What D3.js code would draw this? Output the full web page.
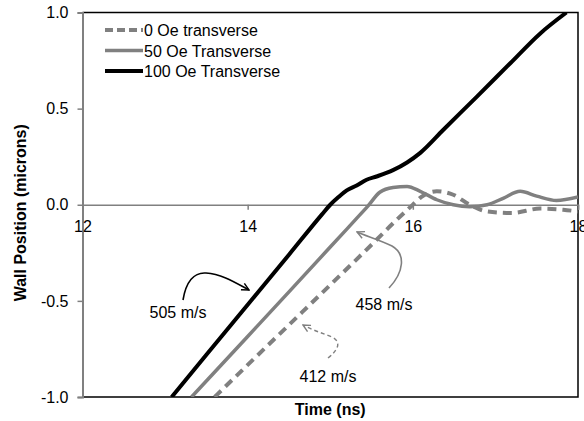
<!DOCTYPE html>
<html>
<head>
<meta charset="utf-8">
<script src="https://cdn.jsdelivr.net/npm/d3@7"></script>
<style>
  body { margin: 0; background: #fff; }
  svg { display: block; font-family: "Liberation Sans", Arial, sans-serif; }
  .tick-label { font-size: 16px; fill: #000; }
  .axis-title { font-size: 16px; font-weight: bold; fill: #000; }
  .note { font-size: 16px; fill: #000; }
</style>
</head>
<body>
<div id="chart"></div>
<script>
// data
var xTicks = [12, 14, 16, 18];
var yTicks = [1.0, 0.5, 0.0, -0.5, -1.0];
var seriesNames = ["0 Oe transverse", "50 Oe Transverse", "100 Oe Transverse"];

var t0 = [13.6, 14.0, 14.5, 15.0, 15.5, 15.8, 16.0, 16.1, 16.29, 16.49, 16.69, 16.9, 17.2, 17.54, 17.82, 18.0];
var y0 = [-1.0, -0.833, -0.625, -0.417, -0.208, -0.08, 0.0, 0.04, 0.07, 0.052, 0.0, -0.035, -0.043, -0.02, -0.026, -0.035];

var t50 = [13.32, 14.0, 14.5, 15.0, 15.3, 15.45, 15.6, 15.76, 15.93, 16.09, 16.29, 16.49, 16.69, 16.9, 17.1, 17.3, 17.5, 17.74, 18.0];
var y50 = [-1.0, -0.685, -0.453, -0.22, -0.08, -0.01, 0.065, 0.09, 0.095, 0.07, 0.026, 0.0, -0.01, 0.0, 0.035, 0.07, 0.045, 0.022, 0.04];

var t100 = [13.08, 13.5, 14.0, 14.5, 14.9, 15.0, 15.1, 15.2, 15.32, 15.44, 15.56, 15.76, 15.93, 16.09, 16.37, 16.77, 17.18, 17.54, 17.86];
var y100 = [-1.0, -0.78, -0.52, -0.26, -0.05, 0.0, 0.04, 0.075, 0.10, 0.13, 0.147, 0.18, 0.22, 0.27, 0.39, 0.56, 0.736, 0.89, 1.0];

var speedLabels = ["412 m/s", "458 m/s", "505 m/s"];

var W = 584, H = 421;
var pLeft = 82.5, pRight = 578, pTop = 12.5, pBottom = 397;

var x = d3.scaleLinear().domain([12, 18]).range([pLeft, pRight]);
var y = d3.scaleLinear().domain([-1, 1]).range([pBottom, pTop]);

var svg = d3.select("#chart").append("svg")
  .attr("width", W)
  .attr("height", H);

svg.append("clipPath").attr("id", "plot-clip")
  .append("rect")
  .attr("x", pLeft).attr("y", pTop)
  .attr("width", pRight - pLeft).attr("height", pBottom - pTop);

// arrow heads (open V)
function marker(id, color) {
  svg.append("marker")
    .attr("id", id)
    .attr("viewBox", "0 0 10 10")
    .attr("refX", 9).attr("refY", 5)
    .attr("markerWidth", 9).attr("markerHeight", 9)
    .attr("markerUnits", "userSpaceOnUse")
    .attr("orient", "auto")
    .append("path")
    .attr("d", "M1,1 L9,5 L1,9")
    .attr("fill", "none")
    .attr("stroke", color)
    .attr("stroke-width", 1.6);
}
marker("arrow-black", "#000");
marker("arrow-gray", "#808080");

// frame: black top/right/bottom
svg.append("path")
  .attr("d", "M" + pLeft + "," + pTop + "H" + pRight + "V" + pBottom + "H" + pLeft)
  .attr("fill", "none")
  .attr("stroke", "#000")
  .attr("stroke-width", 1.5);

// y axis (gray), plain hyphen for negatives like the original
var yAxis = d3.axisLeft(y).tickValues(yTicks).tickSize(5)
  .tickFormat(function(d) { return d.toFixed(1); });
var gy = svg.append("g").attr("transform", "translate(" + pLeft + ",0)").call(yAxis);
gy.select(".domain").attr("stroke", "#808080").attr("stroke-width", 2);
gy.selectAll(".tick line").attr("stroke", "#808080").attr("stroke-width", 1.5);
gy.selectAll(".tick text")
  .attr("class", "tick-label")
  .attr("x", -14)
  .style("font-size", "16px")
  .style("font-family", "'Liberation Sans', Arial, sans-serif");

// x axis sits on y = 0
var xAxis = d3.axisBottom(x).tickValues(xTicks).tickSize(5).tickFormat(d3.format("d"));
var gx = svg.append("g").attr("transform", "translate(0," + y(0) + ")").call(xAxis);
gx.select(".domain").attr("stroke", "#808080").attr("stroke-width", 1.5);
gx.selectAll(".tick line").attr("stroke", "#808080").attr("stroke-width", 1.5);
gx.selectAll(".tick text")
  .attr("class", "tick-label")
  .attr("y", 16)
  .style("font-size", "16px")
  .style("font-family", "'Liberation Sans', Arial, sans-serif");

// axis titles
svg.append("text")
  .attr("class", "axis-title")
  .attr("x", (pLeft + pRight) / 2)
  .attr("y", 415)
  .attr("text-anchor", "middle")
  .text("Time (ns)");

svg.append("text")
  .attr("class", "axis-title")
  .attr("transform", "translate(26," + ((pTop + pBottom) / 2 + 8) + ") rotate(-90)")
  .attr("text-anchor", "middle")
  .text("Wall Position (microns)");

// series
var series = [
  {name: seriesNames[0], t: t0, v: y0, color: "#808080", width: 4, dash: "9,6"},
  {name: seriesNames[1], t: t50, v: y50, color: "#808080", width: 3.5, dash: null},
  {name: seriesNames[2], t: t100, v: y100, color: "#000", width: 4, dash: null}
];

var line = d3.line()
  .x(function(d) { return x(d[0]); })
  .y(function(d) { return y(d[1]); })
  .curve(d3.curveMonotoneX);

var plot = svg.append("g").attr("clip-path", "url(#plot-clip)");

series.forEach(function(s) {
  var pts = s.t.map(function(t, i) { return [t, s.v[i]]; });
  plot.append("path")
    .attr("d", line(pts))
    .attr("fill", "none")
    .attr("stroke", s.color)
    .attr("stroke-width", s.width)
    .attr("stroke-dasharray", s.dash);
});

// legend
var legend = svg.append("g");
series.forEach(function(s, i) {
  var ly = 30 + i * 20.5;
  legend.append("line")
    .attr("x1", 105).attr("x2", 143)
    .attr("y1", ly).attr("y2", ly)
    .attr("stroke", s.color)
    .attr("stroke-width", s.width)
    .attr("stroke-dasharray", s.dash ? "8,4" : null);
  legend.append("text")
    .attr("class", "note")
    .attr("x", 144)
    .attr("y", ly + 6)
    .text(s.name);
});

// velocity notes with curved arrows
svg.append("path")
  .attr("d", "M183,300 C186,282 194,272 206,273 C222,274 236,283 249,290")
  .attr("fill", "none").attr("stroke", "#000").attr("stroke-width", 1.6)
  .attr("marker-end", "url(#arrow-black)");
svg.append("text").attr("class", "note")
  .attr("x", 178).attr("y", 318).attr("text-anchor", "middle")
  .text(speedLabels[2]);

svg.append("path")
  .attr("d", "M389,288 C404,272 406,254 392,246 C380,240 366,236 357,232")
  .attr("fill", "none").attr("stroke", "#808080").attr("stroke-width", 1.6)
  .attr("marker-end", "url(#arrow-gray)");
svg.append("text").attr("class", "note")
  .attr("x", 384).attr("y", 310).attr("text-anchor", "middle")
  .text(speedLabels[1]);

svg.append("path")
  .attr("d", "M328,358 C338,350 342,342 332,337 C322,333 312,330 303,325")
  .attr("fill", "none").attr("stroke", "#808080").attr("stroke-width", 1.4)
  .attr("stroke-dasharray", "4,3")
  .attr("marker-end", "url(#arrow-gray)");
svg.append("text").attr("class", "note")
  .attr("x", 328).attr("y", 382).attr("text-anchor", "middle")
  .text(speedLabels[0]);
</script>
</body>
</html>
